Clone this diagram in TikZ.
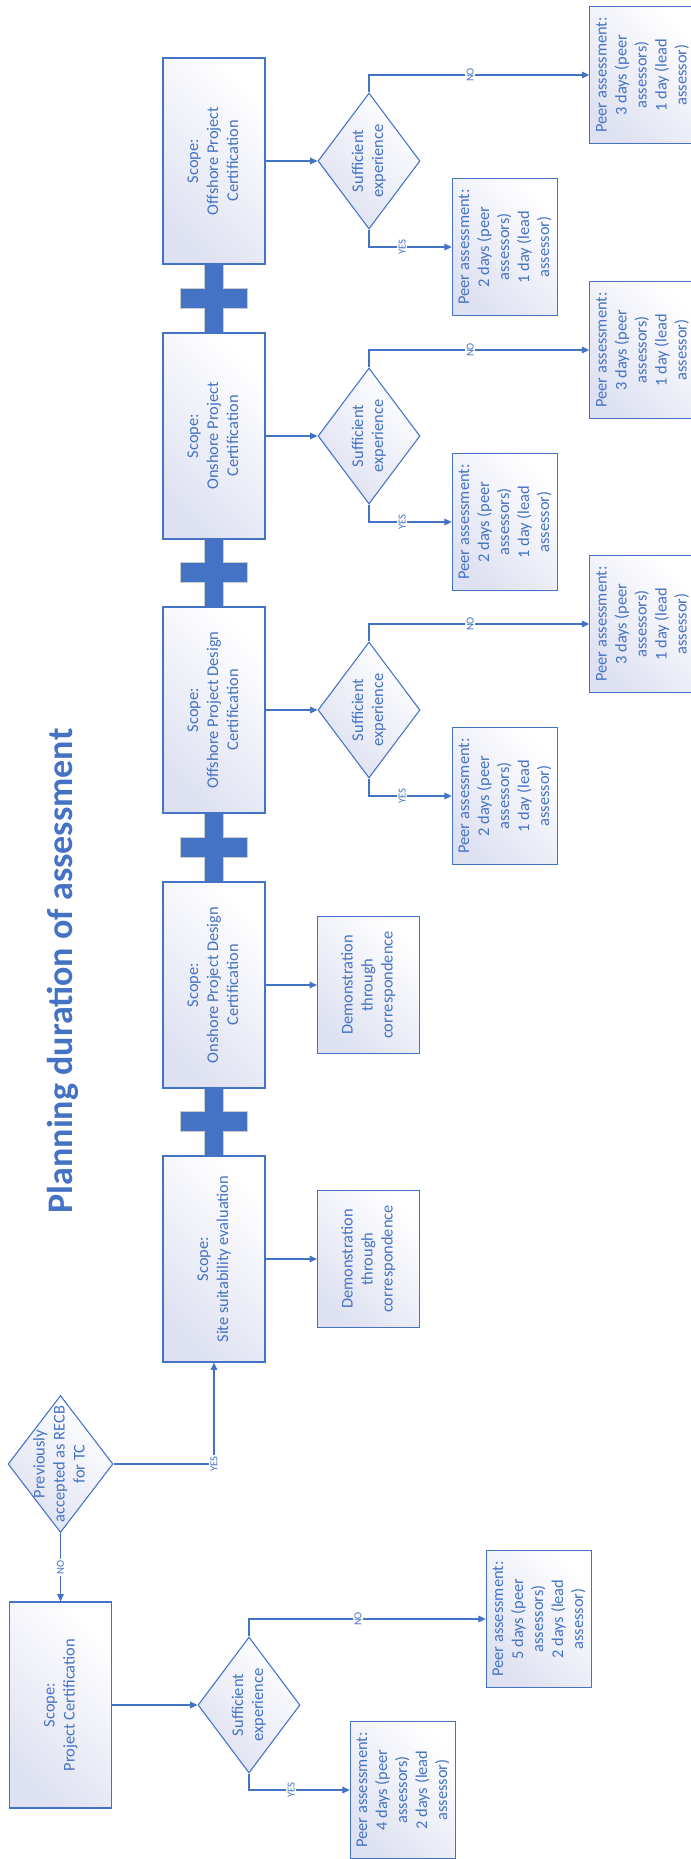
\documentclass[tikz,border=0pt]{standalone}
\usepackage{fontspec}
\setmainfont{Carlito}
\usepackage{tikz, graphicx}
\definecolor{chartblue}{RGB}{68, 114, 196}
\definecolor{boxshade}{RGB}{222, 225, 241}
\usetikzlibrary{shapes.geometric, arrows.meta}
\newcommand{\vtext}[1]{\rotatebox{90}{\begin{tabular}{@{}c@{}}#1\end{tabular}}}

\begin{document}
\begin{tikzpicture}[x=0.75pt, y=-0.75pt,
				>={Triangle[length=5.5pt, width=5pt]},   %Pfeilspitzen
				font=\fontsize{12.3}{15}\selectfont,
				every node/.style={text=chartblue},
				scopebox/.style={draw=chartblue, line width=0.9pt, top color=white, middle color=white, bottom color=boxshade, shading angle=-45, minimum width=76.5pt, minimum height=154.5pt, inner sep=2pt},
				resultbox/.style={scopebox, minimum height=102.75pt},
				decision/.style={diamond, draw=chartblue, line width=0.8pt, top color=white, middle color=white, bottom color=boxshade, shading angle=-45, minimum width=76.5pt, minimum height=102pt, inner sep=0pt},
				link/.style={draw=chartblue, line width=0.8pt, ->},
				lbl/.style={fill=white, inner sep=1pt, font=\fontsize{8}{9}\selectfont}]
				%Bildbereich
				\useasboundingbox (0,0) rectangle (691,1859);
				\clip (0,0) rectangle (691,1859);
				% Titel
				\node[inner sep=0pt, font=\fontsize{27}{32}\selectfont\bfseries] (title) at (63,971) {\rotatebox{90}{Planning duration of assessment}};
				% Pluszeichen zwischen den Kaesten
				\foreach \y in {298.5, 572.5, 847.5, 1121.5}
					\filldraw[fill=chartblue, draw=gray!40, line width=0.6pt] (204.5,\y-34.5) -- (223.5,\y-34.5) -- (223.5,\y-10) -- (247.5,\y-10) -- (247.5,\y+10) -- (223.5,\y+10) -- (223.5,\y+34.5) -- (204.5,\y+34.5) -- (204.5,\y+10) -- (180.5,\y+10) -- (180.5,\y-10) -- (204.5,\y-10) -- cycle;
				% Scope-Kaesten
				\node[scopebox] (s1) at (214,161) {\vtext{Scope:\\Offshore Project\\Certification}};
				\node[scopebox] (s2) at (214,436) {\vtext{Scope:\\Onshore Project\\Certification}};
				\node[scopebox] (s3) at (214,710) {\vtext{Scope:\\Offshore Project Design\\Certification}};
				\node[scopebox] (s4) at (214,985) {\vtext{Scope:\\Onshore Project Design\\Certification}};
				\node[scopebox] (s5) at (214,1259) {\vtext{Scope:\\Site suitability evaluation}};
				\node[scopebox] (s6) at (60.5,1705) {\vtext{Scope:\\Project Certification}};
				% Nachweis per Korrespondenz
				\node[resultbox] (c4) at (368.5,985) {\vtext{Demonstration\\through\\correspondence}};
				\node[resultbox] (c5) at (368.5,1259) {\vtext{Demonstration\\through\\correspondence}};
				\draw[link] (s4.east) -- (c4.west);
				\draw[link] (s5.east) -- (c5.west);
				% Entscheidungen mit Peer assessment
				\foreach \i/\y in {1/161, 2/436, 3/710} {
					\node[decision, label={center:\vtext{Sufficient\\experience}}] (d\i) at (369,\y) {};
					\node[resultbox] (yes\i) at (505,\y+86) {\vtext{Peer assessment:\\2 days (peer\\assessors)\\1 day (lead\\assessor)}};
					\node[resultbox] (no\i) at (642.5,\y-86) {\vtext{Peer assessment:\\3 days (peer\\assessors)\\1 day (lead\\assessor)}};
					\draw[link] (s\i.east) -- (d\i.west);
					\draw[link] (d\i.north) |- node[lbl, pos=.73] {\rotatebox{90}{NO}} (no\i.west);
					\draw[link] (d\i.south) |- node[lbl, pos=.7] {\rotatebox{90}{YES}} (yes\i.west);
				}
				% Einstieg unten links
				\node[decision, minimum width=78.75pt, minimum height=102.75pt, label={center:\vtext{Previously\\accepted as RECB\\for TC}}] (d0) at (60.5,1464) {};
				\draw[link] (d0.south) -- node[lbl] {\rotatebox{90}{NO}} (s6.north);
				\draw[link] (d0.east) -| node[lbl, pos=.5] {\rotatebox{90}{YES}} (s5.south);
				\node[decision, label={center:\vtext{Sufficient\\experience}}] (d6) at (249,1705) {};
				\node[resultbox] (yes6) at (403,1790) {\vtext{Peer assessment:\\4 days (peer\\assessors)\\2 days (lead\\assessor)}};
				\node[resultbox] (no6) at (539,1619) {\vtext{Peer assessment:\\5 days (peer\\assessors)\\2 days (lead\\assessor)}};
				\draw[link] (s6.east) -- (d6.west);
				\draw[link] (d6.north) |- node[lbl, pos=.73] {\rotatebox{90}{NO}} (no6.west);
				\draw[link] (d6.south) |- node[lbl, pos=.71] {\rotatebox{90}{YES}} (yes6.west);
			\end{tikzpicture}
\end{document}
